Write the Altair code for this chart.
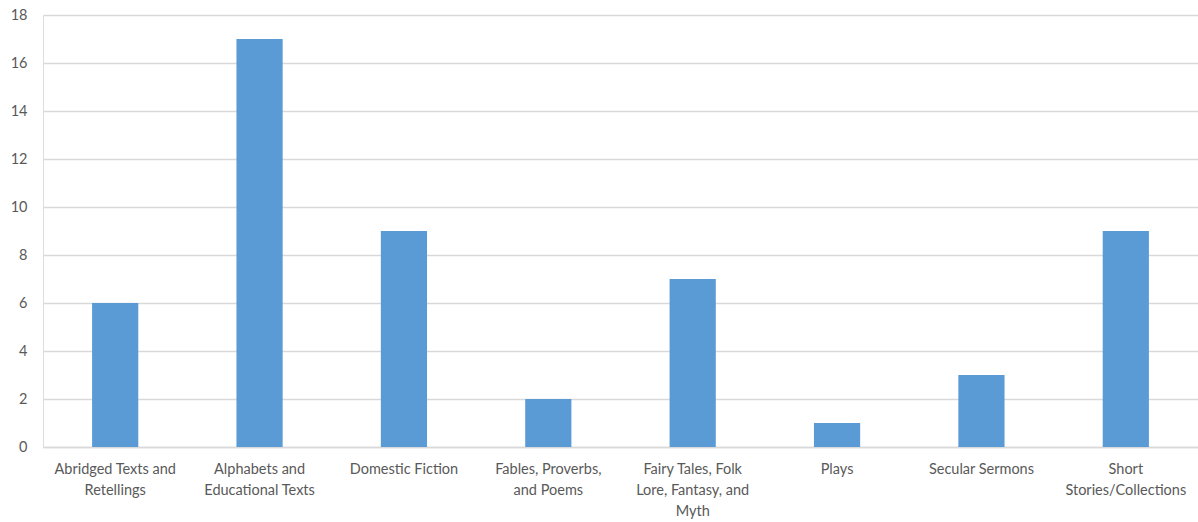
import altair as alt
import pandas as pd

# Genre categories (line breaks mark where the axis label wraps)
categories = [
    "Abridged Texts and\nRetellings",
    "Alphabets and\nEducational Texts",
    "Domestic Fiction",
    "Fables, Proverbs,\nand Poems",
    "Fairy Tales, Folk\nLore, Fantasy, and\nMyth",
    "Plays",
    "Secular Sermons",
    "Short\nStories/Collections",
]
counts = [6, 17, 9, 2, 7, 1, 3, 9]
y_ticks = [0, 2, 4, 6, 8, 10, 12, 14, 16, 18]

df = pd.DataFrame({"genre": categories, "count": counts})

FONT = "Lato"
LABEL_COLOR = "#595959"
GRID_COLOR = "#D9D9D9"

chart = (
    alt.Chart(df)
    .mark_bar(color="#5B9BD5")
    .encode(
        x=alt.X(
            "genre:N",
            sort=categories,
            title=None,
            scale=alt.Scale(paddingInner=0.68, paddingOuter=0.34),
            axis=alt.Axis(
                labelAngle=0,
                labelExpr="split(datum.label, '\\n')",
                labelFont=FONT,
                labelFontSize=14.5,
                labelColor=LABEL_COLOR,
                labelLineHeight=21,
                labelPadding=15,
                labelBaseline="top",
                ticks=False,
                domain=True,
                domainColor=GRID_COLOR,
                domainWidth=1.5,
                labelLimit=200,
            ),
        ),
        y=alt.Y(
            "count:Q",
            title=None,
            scale=alt.Scale(domain=[0, 18], nice=False),
            axis=alt.Axis(
                values=y_ticks,
                labelFont=FONT,
                labelFontSize=14.5,
                labelColor=LABEL_COLOR,
                labelPadding=16,
                ticks=False,
                domain=False,
                grid=True,
                gridColor=GRID_COLOR,
                gridWidth=1.5,
            ),
        ),
    )
    .properties(
        width=1155,
        height=432,
        autosize=alt.AutoSizeParams(type="none"),
        padding={"left": 43, "top": 15, "right": 0, "bottom": 75},
    )
    .configure_view(stroke=None)
    .configure(background="white")
)

chart.save("out.html", embed_options={"renderer": "svg", "actions": False})
